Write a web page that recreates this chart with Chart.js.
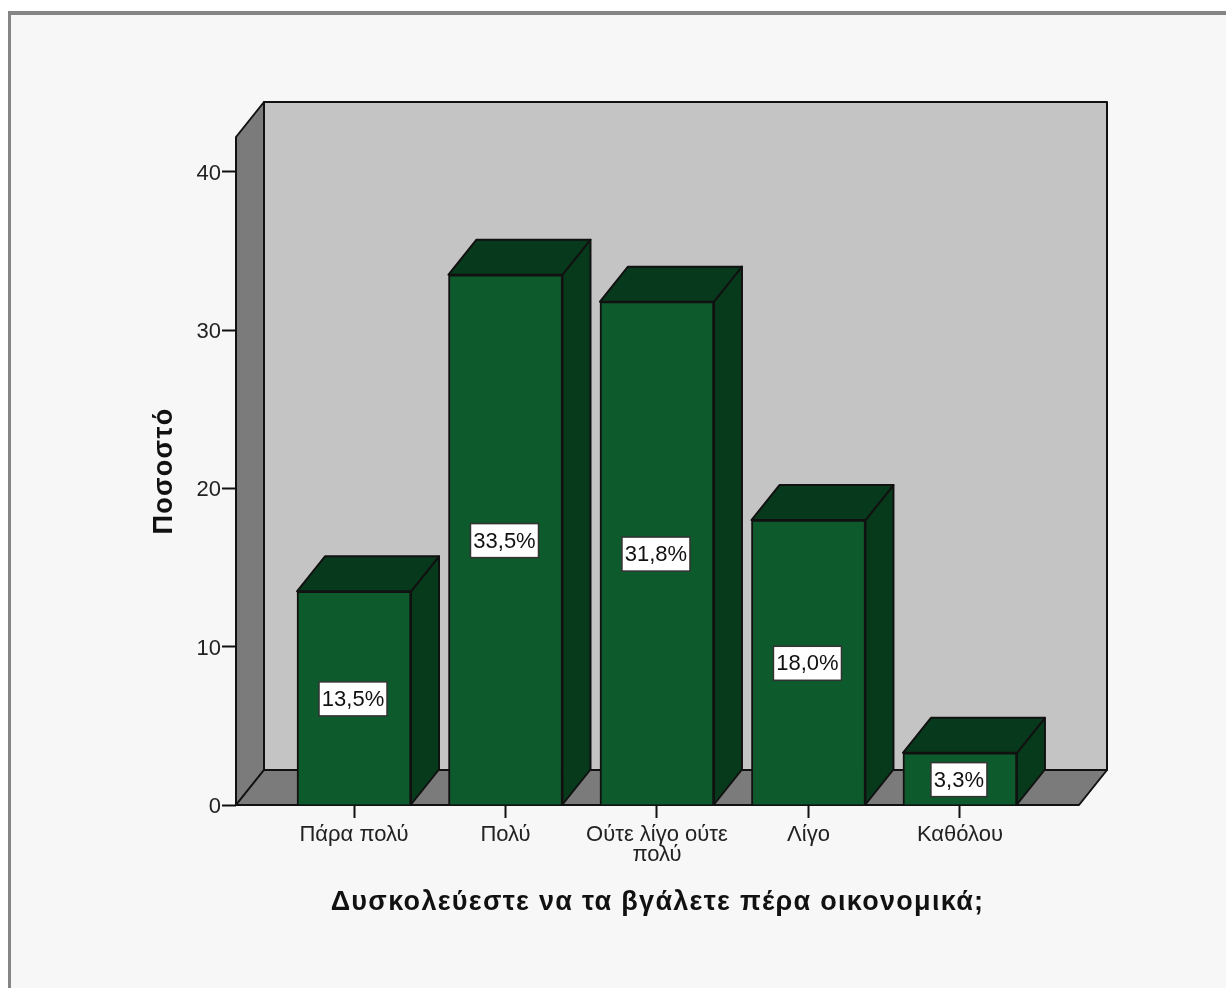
<!DOCTYPE html>
<html lang="el">
<head>
<meta charset="utf-8">
<title>Δυσκολεύεστε να τα βγάλετε πέρα οικονομικά;</title>
<style>
  html, body { margin: 0; height: 100%; background: #fff; overflow: hidden; }
  #frame { position: absolute; left: 8px; top: 11px; right: 0; bottom: 0; background: #f7f7f7; border-left: 3px solid #858585; border-top: 4px solid #858585; }
  #chart { position: absolute; left: 0; top: 0; }
</style>
<script src="https://cdn.jsdelivr.net/npm/chart.js@4/dist/chart.umd.min.js"></script>
</head>
<body>
<div id="frame"></div>
<canvas id="chart" width="1226" height="988"></canvas>
<script>
const categories = ['Πάρα πολύ', 'Πολύ', ['Ούτε λίγο ούτε', 'πολύ'], 'Λίγο', 'Καθόλου'];
const percentages = [13.5, 33.5, 31.8, 18.0, 3.3];
const percentLabels = ['13,5%', '33,5%', '31,8%', '18,0%', '3,3%'];
const yTicks = [0, 10, 20, 30, 40];
const xTitle = 'Δυσκολεύεστε να τα βγάλετε πέρα οικονομικά;';
const yTitle = 'Ποσοστό';

const FONT = '"Liberation Sans", Arial, sans-serif';
const DEPTH_X = 28;
const DEPTH_Y = 35;
const LINE = '#111';

const poly = (ctx, pts, fill) => {
  ctx.beginPath();
  pts.forEach(([x, y], i) => i ? ctx.lineTo(x, y) : ctx.moveTo(x, y));
  ctx.closePath();
  ctx.fillStyle = fill;
  ctx.fill();
  ctx.lineWidth = 2;
  ctx.strokeStyle = LINE;
  ctx.lineJoin = 'round';
  ctx.stroke();
};

// box look: the library has no 3D bars, so walls and bar sides hang off its scales
const box3d = {
  id: 'box3d',
  beforeDatasetsDraw(chart) {
    const { ctx, chartArea: { left, right, top, bottom } } = chart;
    const dx = DEPTH_X, dy = DEPTH_Y;
    ctx.save();
    poly(ctx, [[left + dx, top - dy], [right + dx, top - dy], [right + dx, bottom - dy], [left + dx, bottom - dy]], '#c4c4c4');
    poly(ctx, [[left, top], [left + dx, top - dy], [left + dx, bottom - dy], [left, bottom]], '#7b7b7b');
    poly(ctx, [[left, bottom], [left + dx, bottom - dy], [right + dx, bottom - dy], [right, bottom]], '#7b7b7b');
    chart.getDatasetMeta(0).data.forEach(bar => {
      const l = bar.x - bar.width / 2, r = bar.x + bar.width / 2;
      poly(ctx, [[r, bar.y], [r + dx, bar.y - dy], [r + dx, bar.base - dy], [r, bar.base]], '#063a1b');
      poly(ctx, [[l, bar.y], [l + dx, bar.y - dy], [r + dx, bar.y - dy], [r, bar.y]], '#073a1c');
    });
    ctx.restore();
  },
  afterDatasetsDraw(chart) {
    const { ctx } = chart;
    ctx.save();
    ctx.font = '22px ' + FONT;
    ctx.textAlign = 'center';
    ctx.textBaseline = 'middle';
    chart.getDatasetMeta(0).data.forEach((bar, i) => {
      const text = percentLabels[i];
      const w = Math.round(ctx.measureText(text).width) + 6;
      const h = 34;
      const cx = bar.x - 1;
      const cy = (bar.y + bar.base) / 2 + 1;
      ctx.fillStyle = '#fff';
      ctx.strokeStyle = '#333';
      ctx.lineWidth = 1.5;
      ctx.fillRect(cx - w / 2, cy - h / 2, w, h);
      ctx.strokeRect(cx - w / 2, cy - h / 2, w, h);
      ctx.fillStyle = '#111';
      ctx.fillText(text, cx, cy + 1);
    });
    ctx.restore();
  },
  // axis titles are spaced out in the original, the scale title has no option for that
  afterDraw(chart) {
    const { ctx, chartArea: { left, right, top, bottom } } = chart;
    ctx.save();
    ctx.font = 'bold 27px ' + FONT;
    ctx.letterSpacing = '1.3px';
    ctx.textAlign = 'center';
    ctx.textBaseline = 'middle';
    ctx.fillStyle = '#111';
    ctx.fillText(xTitle, (left + right) / 2, 903);
    ctx.translate(165, (top + bottom) / 2);
    ctx.rotate(-Math.PI / 2);
    ctx.fillText(yTitle, 0, 0);
    ctx.restore();
  }
};

new Chart(document.getElementById('chart'), {
  type: 'bar',
  data: {
    datasets: [{
      data: percentages.map((v, i) => ({ x: i, y: v })),
      backgroundColor: '#0d5a2c',
      borderColor: LINE,
      borderWidth: 2,
      barThickness: 114,
    }]
  },
  options: {
    responsive: false,
    animation: false,
    layout: { padding: { left: 0, right: 147, top: 137, bottom: 0 } },
    plugins: { legend: { display: false }, tooltip: { enabled: false } },
    scales: {
      x: {
        type: 'linear',
        offset: false,
        min: -0.779,
        max: 4.786,
        afterBuildTicks: axis => { axis.ticks = categories.map((c, i) => ({ value: i })); },
        afterFit: axis => { axis.height = 183; },
        grid: { offset: false, drawOnChartArea: false, drawTicks: true, tickLength: 13, tickColor: LINE, tickWidth: 2 },
        border: { display: false },
        ticks: {
          autoSkip: false, maxRotation: 0, minRotation: 0, padding: 7,
          color: '#222',
          font: { family: FONT, size: 22, lineHeight: 0.91 },
          callback: v => categories[v],
        },
      },
      y: {
        min: 0,
        max: 42.2,
        afterBuildTicks: axis => { axis.ticks = yTicks.map(v => ({ value: v })); },
        afterFit: axis => { axis.width = 236; },
        grid: { drawOnChartArea: false, drawTicks: true, tickLength: 14, tickColor: LINE, tickWidth: 2 },
        border: { display: false },
        ticks: {
          padding: 1, labelOffset: 2, color: '#222',
          font: { family: FONT, size: 22 },
        },
      },
    },
  },
  plugins: [box3d],
});
</script>
</body>
</html>
